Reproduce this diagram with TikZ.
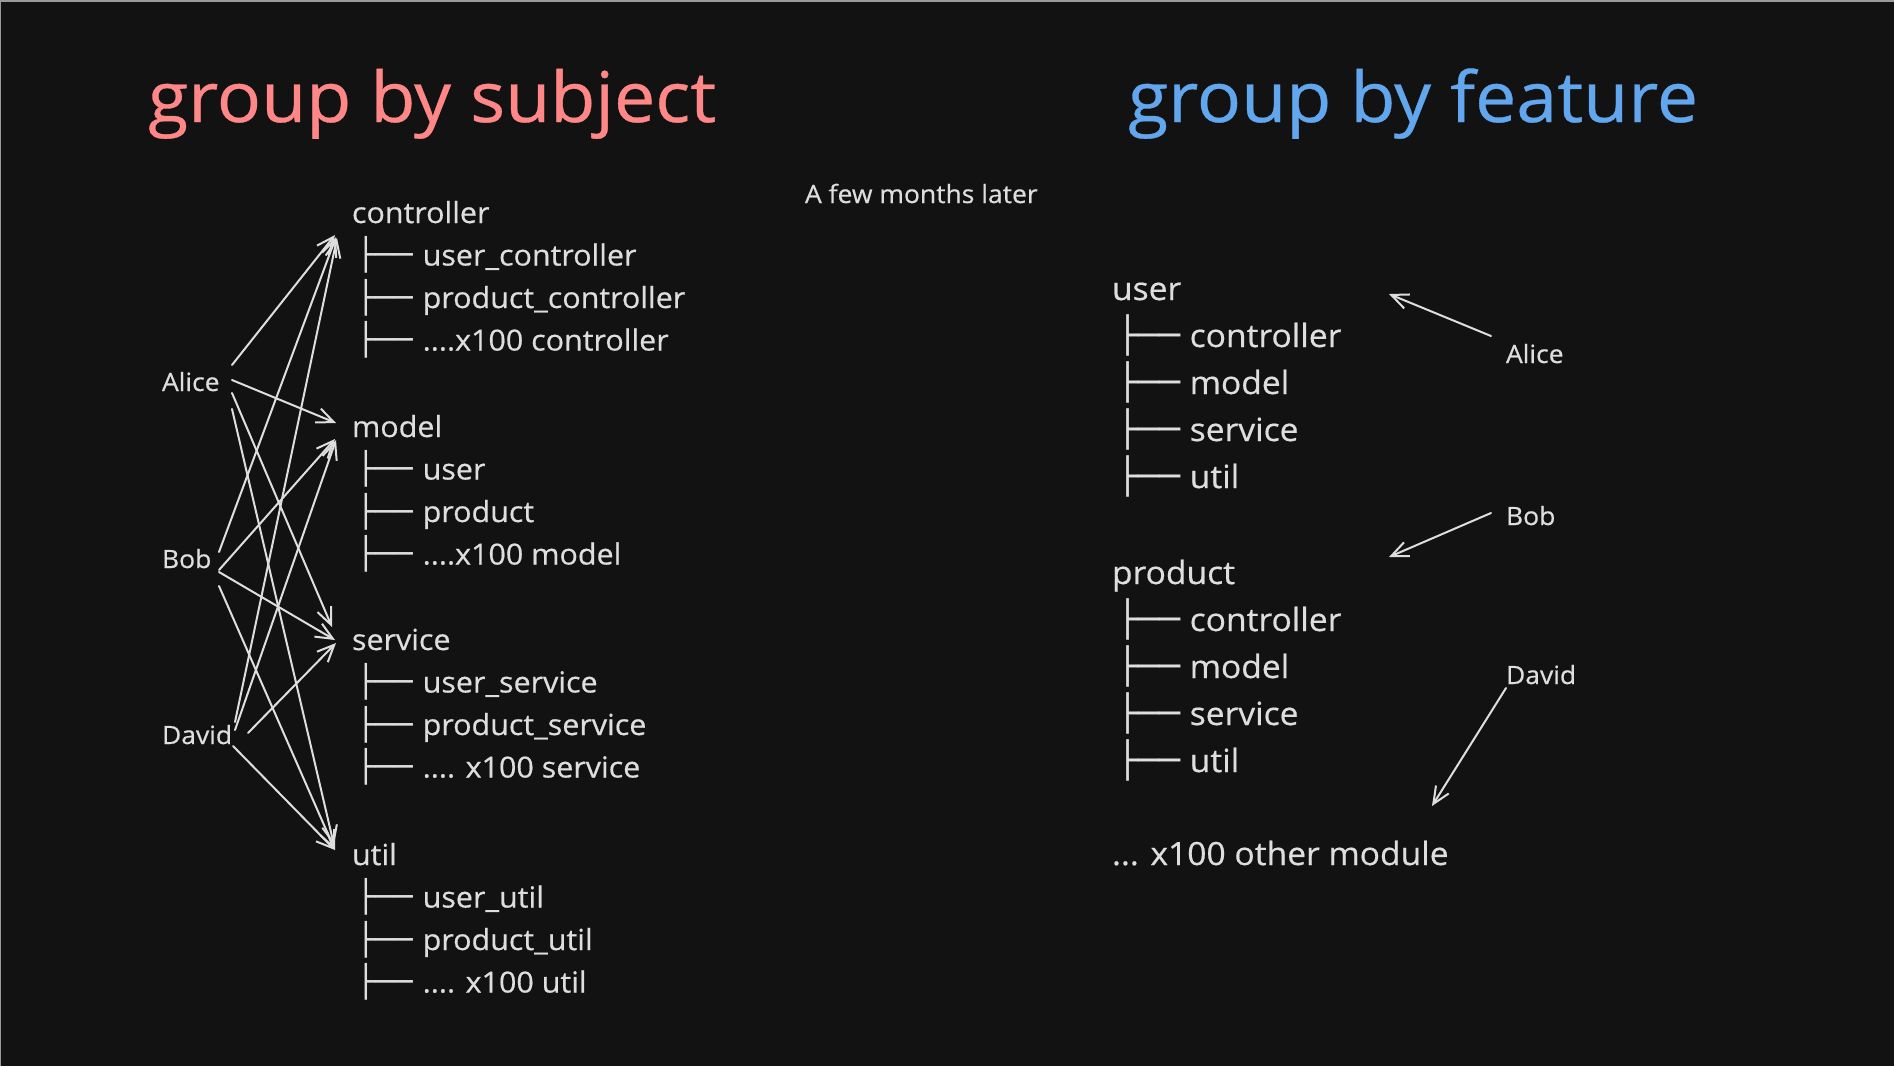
\documentclass[tikz,border=0pt]{standalone}
\usepackage{fontspec}
\setmainfont{Open Sans}[FakeStretch=1.05,FakeBold=0.5]
\newfontfamily\bxfont{DejaVu Sans Mono}
\usetikzlibrary{arrows.meta,calc}
\definecolor{bg}{HTML}{121212}
\definecolor{fg}{HTML}{DEDEDE}
\definecolor{tred}{HTML}{FF8787}
\definecolor{tblue}{HTML}{62A6EE}
\definecolor{edge}{HTML}{9A9A9A}
\newcommand\lbr{{\bxfont\fontsize{15.5}{17}\selectfont ├──}\kern5pt}
\newcommand\rbr{{\bxfont\fontsize{17.5}{20}\selectfont ├──}\kern4.5pt}
\begin{document}
\begin{tikzpicture}[x=0.5pt,y=-0.5pt,
  every node/.style={anchor=base west,inner sep=0pt,outer sep=0pt,text=fg},
  ttl/.style={font=\fontsize{35}{40}\selectfont},
  ltxt/.style={font=\fontsize{14.5}{17}\selectfont},
  rtxt/.style={font=\fontsize{16}{19}\selectfont},
  nm/.style={font=\fontsize{12.6}{15}\selectfont},
  arr/.style={draw=fg,line width=1pt,line cap=round,-{Straight Barb[length=8.5pt,width=7.5pt]}}]
\fill[bg] (0,0) rectangle (1894,1066);
\useasboundingbox (0,0) rectangle (1894,1066);
\fill[edge] (0,0) rectangle (1894,2);
\fill[edge] (0,0) rectangle (1,1066);

% titles
\node[ttl,text=tred] (t1) at (148,122) {group by subject};
\node[ttl,text=tblue] (t2) at (1128,122) {group by feature};
\node[nm] (note) at (805,203) {A few months later};

% left tree
\node[ltxt] (lctrl) at (352,223) {controller};
\node[ltxt] (lc1) at (356.7,265.5) {\lbr user\_controller};
\node[ltxt] (lc2) at (356.7,308) {\lbr product\_controller};
\node[ltxt] (lc3) at (356.7,350.5) {\lbr ....x100 controller};
\node[ltxt] (lmodel) at (352,437) {model};
\node[ltxt] (lm1) at (356.7,479.5) {\lbr user};
\node[ltxt] (lm2) at (356.7,522) {\lbr product};
\node[ltxt] (lm3) at (356.7,564.5) {\lbr ....x100 model};
\node[ltxt] (lserv) at (352,650) {service};
\node[ltxt] (ls1) at (356.7,692.5) {\lbr user\_service};
\node[ltxt] (ls2) at (356.7,735) {\lbr product\_service};
\node[ltxt] (ls3) at (356.7,777.5) {\lbr .... x100 service};
\node[ltxt] (lutil) at (352,865) {util};
\node[ltxt] (lu1) at (356.7,907.5) {\lbr user\_util};
\node[ltxt] (lu2) at (356.7,950) {\lbr product\_util};
\node[ltxt] (lu3) at (356.7,992.5) {\lbr .... x100 util};

% left names
\node[nm] (la) at (162,391) {Alice};
\node[nm] (lb) at (162,568) {Bob};
\node[nm] (ld) at (162,744) {David};

% left arrows
\draw[arr] ([shift={(70,-26)}]la.base west) -- ([shift={(-17,12)}]lctrl.base west);
\draw[arr] ([shift={(70,-11)}]la.base west) -- ([shift={(-16,-14)}]lmodel.base west);
\draw[arr] ([shift={(70,2)}]la.base west) -- ([shift={(-20,-23)}]lserv.base west);
\draw[arr] ([shift={(70,18)}]la.base west) -- ([shift={(-18,-20)}]lutil.base west);
\draw[arr] ([shift={(57,-16)}]lb.base west) -- ([shift={(-16,14)}]lctrl.base west);
\draw[arr] ([shift={(57,2)}]lb.base west) -- ([shift={(-17,2)}]lmodel.base west);
\draw[arr] ([shift={(57,4)}]lb.base west) -- ([shift={(-17,-10)}]lserv.base west);
\draw[arr] ([shift={(57,18)}]lb.base west) -- ([shift={(-17,-15)}]lutil.base west);
\draw[arr] ([shift={(73,-22)}]ld.base west) -- ([shift={(-15,15)}]lctrl.base west);
\draw[arr] ([shift={(73,-14)}]ld.base west) -- ([shift={(-16,3)}]lmodel.base west);
\draw[arr] ([shift={(86,-11)}]ld.base west) -- ([shift={(-16,-7)}]lserv.base west);
\draw[arr] ([shift={(71,2)}]ld.base west) -- ([shift={(-17,-15)}]lutil.base west);

% right tree
\node[rtxt] (ruser) at (1112,300) {user};
\node[rtxt] (ru1) at (1117.5,347) {\rbr controller};
\node[rtxt] (ru2) at (1117.5,394) {\rbr model};
\node[rtxt] (ru3) at (1117.5,441) {\rbr service};
\node[rtxt] (ru4) at (1117.5,488) {\rbr util};
\node[rtxt] (rprod) at (1112,584) {product};
\node[rtxt] (rp1) at (1117.5,631) {\rbr controller};
\node[rtxt] (rp2) at (1117.5,678) {\rbr model};
\node[rtxt] (rp3) at (1117.5,725) {\rbr service};
\node[rtxt] (rp4) at (1117.5,772) {\rbr util};
\node[rtxt] (rmore) at (1112,865) {... x100 other module};

% right names
\node[nm] (ra) at (1506,363) {Alice};
\node[nm] (rb) at (1506,525) {Bob};
\node[nm] (rd) at (1506,684) {David};
\coordinate (aT) at (1389,294);
\coordinate (bT) at (1389,557);
\coordinate (dT) at (1432,806);
\draw[arr] ([shift={(-15,-27)}]ra.base west) -- (aT);
\draw[arr] ([shift={(-15,-12)}]rb.base west) -- (bT);
\draw[arr] ([shift={(0,4)}]rd.base west) -- (dT);
\end{tikzpicture}
\end{document}
